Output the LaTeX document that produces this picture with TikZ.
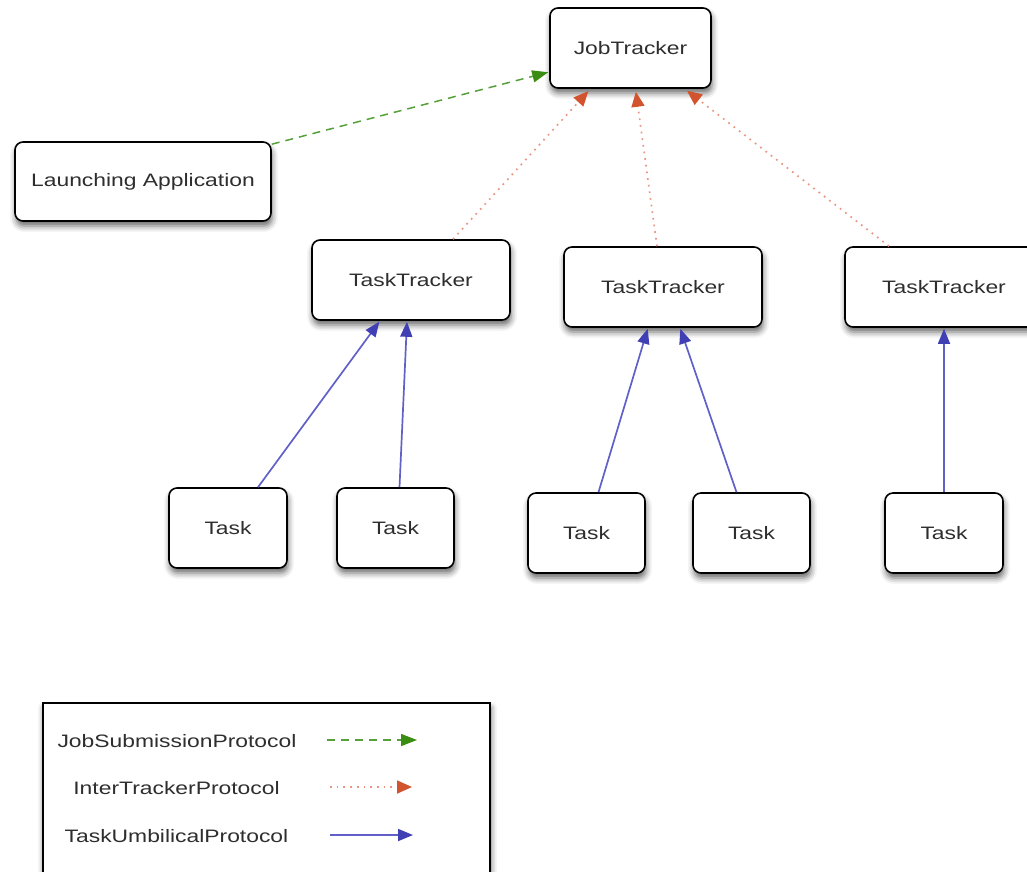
\documentclass[tikz,border=0pt]{standalone}
\usepackage{fontspec}
\setmainfont{Liberation Sans}[FakeStretch=1.27]
\usetikzlibrary{arrows.meta,shadows.blur}

\definecolor{txt}{HTML}{2E2E2E}
\definecolor{jsline}{HTML}{55A03A}
\definecolor{jshead}{HTML}{3A8C12}
\definecolor{itline}{HTML}{E99582}
\definecolor{ithead}{HTML}{D1542F}
\definecolor{tuline}{HTML}{6060C8}
\definecolor{tuhead}{HTML}{4040B4}

\tikzset{
  box/.style={draw=black, line width=1.6pt, rounded corners=8pt, fill=white,
    text=txt, font=\fontsize{18}{22}\selectfont,
    blur shadow={shadow xshift=1pt, shadow yshift=-5pt, shadow blur radius=6pt, shadow opacity=60}},
  legendtext/.style={text=txt, font=\fontsize{18}{22}\selectfont, inner sep=0pt},
  jsp/.style={draw=jsline, line width=1.5pt, dash pattern=on 8pt off 6pt,
    -{Triangle[length=16pt,width=12pt,color=jshead,fill=jshead]}},
  itp/.style={draw=itline, line width=1.7pt, dash pattern=on 1.7pt off 5pt,
    -{Triangle[length=15pt,width=13pt,color=ithead,fill=ithead]}},
  tup/.style={draw=tuline, line width=1.7pt,
    -{Triangle[length=15pt,width=12pt,color=tuhead,fill=tuhead]}},
}

\begin{document}
\begin{tikzpicture}[x=1pt,y=-1pt]
\useasboundingbox (0,0) rectangle (1027,871);
\clip (0,0) rectangle (1027,871);

% trackers and tasks
\node[box, minimum width=161pt, minimum height=80pt] (jt) at (630.5,48) {JobTracker};
\node[box, minimum width=256pt, minimum height=79pt] (la) at (143,181.5) {Launching Application};

\node[box, minimum width=198pt, minimum height=80pt] (tt1) at (411,280) {TaskTracker};
\node[box, minimum width=198pt, minimum height=80pt] (tt2) at (663,287) {TaskTracker};
\node[box, minimum width=198pt, minimum height=80pt] (tt3) at (944,287) {TaskTracker};

\node[box, minimum width=118pt, minimum height=80pt] (t1) at (228,528) {Task};
\node[box, minimum width=117pt, minimum height=80pt] (t2) at (395.5,528) {Task};
\node[box, minimum width=117pt, minimum height=80pt] (t3) at (586.5,533) {Task};
\node[box, minimum width=117pt, minimum height=80pt] (t4) at (751.5,533) {Task};
\node[box, minimum width=118pt, minimum height=80pt] (t5) at (944,533) {Task};

% job submission
\draw[jsp, shorten >=1pt] ([yshift=-3pt]la.north east) -- ([yshift=-24pt]jt.west);

% inter-tracker heartbeats
\draw[itp, shorten >=3pt] ([xshift=42pt]tt1.north) -- ([xshift=-40pt]jt.south);
\draw[itp, shorten >=3pt] ([xshift=-6pt]tt2.north) -- ([xshift=5pt]jt.south);
\draw[itp, shorten >=3pt] ([xshift=-55pt]tt3.north) -- ([xshift=54pt]jt.south);

% task umbilical links
\draw[tup, shorten >=1pt] ([xshift=30pt]t1.north) -- ([xshift=-31pt]tt1.south);
\draw[tup, shorten >=1pt] ([xshift=4pt]t2.north) -- ([xshift=-4pt]tt1.south);
\draw[tup, shorten >=1pt] ([xshift=12pt]t3.north) -- ([xshift=-15pt]tt2.south);
\draw[tup, shorten >=1pt] ([xshift=-15pt]t4.north) -- ([xshift=17pt]tt2.south);
\draw[tup, shorten >=1pt] (t5.north) -- (tt3.south);

% legend
\node[box, minimum width=447pt, minimum height=230pt, rounded corners=0pt] (legend) at (266.5,818) {};
\node[legendtext] (l1) at (177,741) {JobSubmissionProtocol};
\node[legendtext] (l2) at (176.5,788) {InterTrackerProtocol};
\node[legendtext] (l3) at (176.5,836) {TaskUmbilicalProtocol};
\coordinate (a1s) at (327,740);
\coordinate (a1e) at (417,740);
\coordinate (a2s) at (330,787);
\coordinate (a2e) at (412,787);
\coordinate (a3s) at (330,835);
\coordinate (a3e) at (413,835);
\draw[jsp] (a1s) -- (a1e);
\draw[itp] (a2s) -- (a2e);
\draw[tup] (a3s) -- (a3e);
\end{tikzpicture}
\end{document}
